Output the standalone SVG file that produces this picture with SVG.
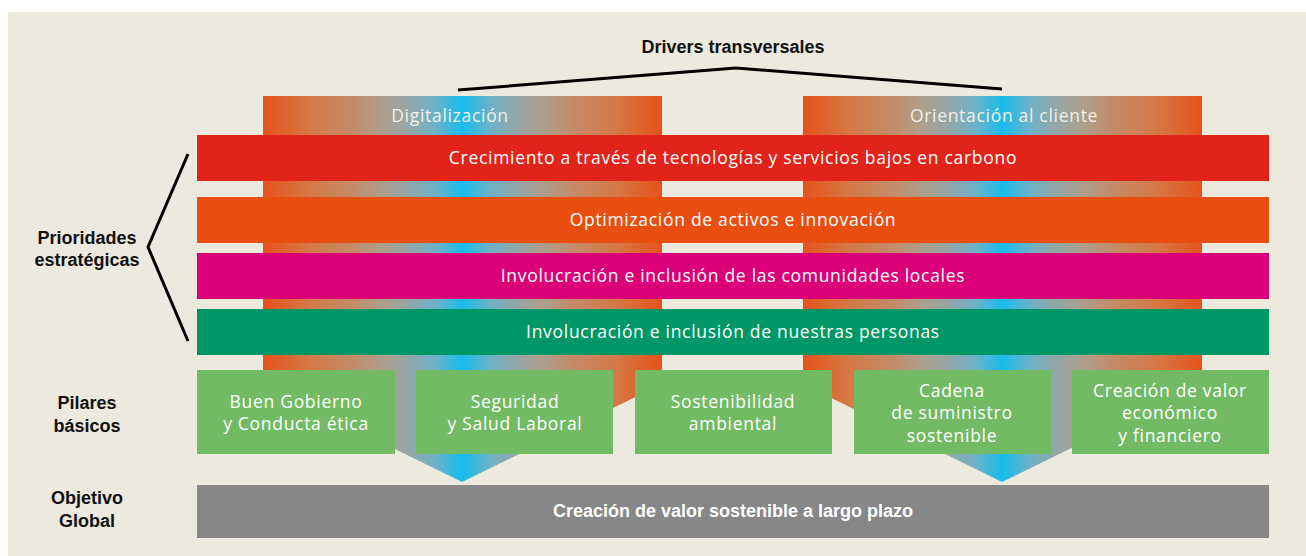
<svg xmlns="http://www.w3.org/2000/svg" width="1306" height="556" viewBox="0 0 1306 556">
<defs>
<linearGradient id="drv" x1="0" y1="0" x2="1" y2="0">
<stop offset="0" stop-color="#E6521A"/>
<stop offset="0.12" stop-color="#D47A48"/>
<stop offset="0.22" stop-color="#C38A67"/>
<stop offset="0.3" stop-color="#ADA08C"/>
<stop offset="0.36" stop-color="#96A6A6"/>
<stop offset="0.43" stop-color="#6FB2C6"/>
<stop offset="0.5" stop-color="#17BCEC"/>
<stop offset="0.57" stop-color="#6FB2C6"/>
<stop offset="0.64" stop-color="#96A6A6"/>
<stop offset="0.7" stop-color="#ADA08C"/>
<stop offset="0.78" stop-color="#C38A67"/>
<stop offset="0.88" stop-color="#D47A48"/>
<stop offset="1" stop-color="#E6521A"/>
</linearGradient>
<style>
.w{font-family:"Open Sans",Roboto,"Liberation Sans",sans-serif;font-size:17.5px;letter-spacing:0.7px;fill:#FFFFFF;text-anchor:middle}
.hd{font-family:"Open Sans",Roboto,"Liberation Sans",sans-serif;font-size:17.5px;letter-spacing:0.7px;fill:#F2F0E8;text-anchor:middle}
.lb{font-family:"Liberation Sans",Arial,sans-serif;font-size:18px;font-weight:bold;fill:#111111;text-anchor:middle}
.gb{font-family:"Liberation Sans",Arial,sans-serif;font-size:18px;font-weight:bold;fill:#FFFFFF;text-anchor:middle}
.ln{fill:none;stroke:#000000;stroke-width:3}
</style>
</defs>
<rect x="8" y="12" width="1298" height="544" fill="#ECEADF"/>
<g id="drivers-title">
<text class="lb" x="733" y="53">Drivers transversales</text>
</g>
<g id="connectors">
<polyline class="ln" points="458,90 736,68 1002,89"/>
<polyline class="ln" points="188,154 148,247 188,341"/>
</g>
<g id="driver-digitalizacion">
<polygon points="263,96 662,96 662,384 462,482 263,384" fill="url(#drv)"/>
<text class="hd" x="450" y="122">Digitalización</text>
</g>
<g id="driver-cliente">
<polygon points="803,96 1202,96 1202,384 1002,482 803,384" fill="url(#drv)"/>
<text class="hd" x="1004" y="122">Orientación al cliente</text>
</g>
<g id="label-prioridades">
<text class="lb" x="87" y="244">Prioridades</text>
<text class="lb" x="87" y="266">estratégicas</text>
</g>
<g id="label-pilares">
<text class="lb" x="87" y="409">Pilares</text>
<text class="lb" x="87" y="432">básicos</text>
</g>
<g id="label-objetivo">
<text class="lb" x="87" y="504">Objetivo</text>
<text class="lb" x="87" y="527">Global</text>
</g>
<g id="prio-1">
<rect x="197" y="135" width="1072" height="46" fill="#E2231A"/>
<text class="w" x="733" y="164">Crecimiento a través de tecnologías y servicios bajos en carbono</text>
</g>
<g id="prio-2">
<rect x="197" y="197" width="1072" height="46" fill="#E84E0F"/>
<text class="w" x="733" y="226">Optimización de activos e innovación</text>
</g>
<g id="prio-3">
<rect x="197" y="253" width="1072" height="46" fill="#DC0078"/>
<text class="w" x="733" y="282">Involucración e inclusión de las comunidades locales</text>
</g>
<g id="prio-4">
<rect x="197" y="309" width="1072" height="46" fill="#009767"/>
<text class="w" x="733" y="338">Involucración e inclusión de nuestras personas</text>
</g>
<g id="pilar-1">
<rect x="197" y="370" width="198" height="84" fill="#72BA63"/>
<text class="w" x="296" y="408">Buen Gobierno</text>
<text class="w" x="296" y="430">y Conducta ética</text>
</g>
<g id="pilar-2">
<rect x="416" y="370" width="197" height="84" fill="#72BA63"/>
<text class="w" x="515" y="408">Seguridad</text>
<text class="w" x="515" y="430">y Salud Laboral</text>
</g>
<g id="pilar-3">
<rect x="635" y="370" width="197" height="84" fill="#72BA63"/>
<text class="w" x="733" y="408">Sostenibilidad</text>
<text class="w" x="733" y="430">ambiental</text>
</g>
<g id="pilar-4">
<rect x="854" y="370" width="197" height="84" fill="#72BA63"/>
<text class="w" x="952" y="397">Cadena</text>
<text class="w" x="952" y="419">de suministro</text>
<text class="w" x="952" y="442">sostenible</text>
</g>
<g id="pilar-5">
<rect x="1072" y="370" width="197" height="84" fill="#72BA63"/>
<text class="w" x="1170" y="397">Creación de valor</text>
<text class="w" x="1170" y="419">económico</text>
<text class="w" x="1170" y="442">y financiero</text>
</g>
<g id="objetivo">
<rect x="197" y="485" width="1072" height="53" fill="#878787"/>
<text class="gb" x="733" y="517">Creación de valor sostenible a largo plazo</text>
</g>
</svg>
